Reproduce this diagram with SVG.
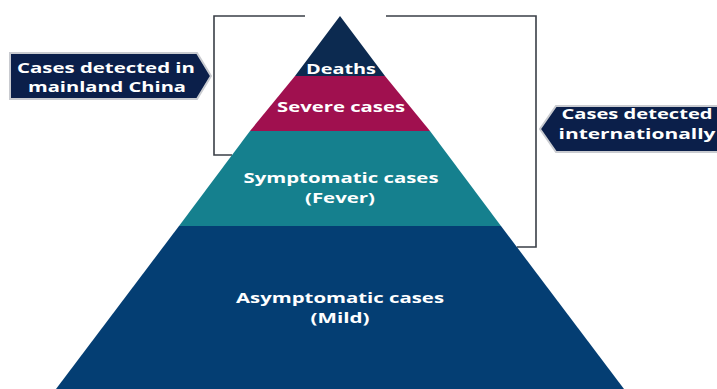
<svg xmlns="http://www.w3.org/2000/svg" width="717" height="389" viewBox="0 0 717 389">
<style>
.t{font-family:"Open Sans","Liberation Sans",sans-serif;font-weight:bold;fill:#ffffff;text-anchor:middle;font-size:14.5px}
.lbl{fill:#0b1f4a;stroke:#c9cbd0;stroke-width:2}
.br{fill:none;stroke:#3a3f47;stroke-width:1.6}
</style>
<rect width="717" height="389" fill="#ffffff"/>
<g id="connectors">
<polyline class="br" points="305,16 214,16 214,155 232,155"/>
<polyline class="br" points="386,16 536,16 536,247 517,247"/>
</g>
<g id="asymptomatic">
<polygon points="179,226 501,226 624,389 56,389" fill="#043e73"/>
<text class="t" x="340" y="303" textLength="208" lengthAdjust="spacingAndGlyphs">Asymptomatic cases</text>
<text class="t" x="340" y="323" textLength="59" lengthAdjust="spacingAndGlyphs">(Mild)</text>
</g>
<g id="symptomatic">
<polygon points="250,131 430,131 501,226 179,226" fill="#15808e"/>
<text class="t" x="341" y="183" textLength="195" lengthAdjust="spacingAndGlyphs">Symptomatic cases</text>
<text class="t" x="340" y="203" textLength="70" lengthAdjust="spacingAndGlyphs">(Fever)</text>
</g>
<g id="severe">
<polygon points="295,76 385,76 430,131 250,131" fill="#a0104f"/>
<text class="t" x="341" y="112" textLength="128" lengthAdjust="spacingAndGlyphs">Severe cases</text>
</g>
<g id="deaths">
<polygon points="340,16 385,76 295,76" fill="#0c2a50"/>
<text class="t" x="341" y="74" textLength="70" lengthAdjust="spacingAndGlyphs">Deaths</text>
</g>
<g id="label-china">
<polygon class="lbl" points="10,53 197,53 211,76 197,99 10,99"/>
<text class="t" x="106" y="73" textLength="178" lengthAdjust="spacingAndGlyphs">Cases detected in</text>
<text class="t" x="107" y="92" textLength="158" lengthAdjust="spacingAndGlyphs">mainland China</text>
</g>
<g id="label-international">
<polygon class="lbl" points="556,106 720,106 720,152 556,152 540,129"/>
<text class="t" x="637" y="119" textLength="151" lengthAdjust="spacingAndGlyphs">Cases detected</text>
<text class="t" x="637" y="139" textLength="157" lengthAdjust="spacingAndGlyphs">internationally</text>
</g>
</svg>
